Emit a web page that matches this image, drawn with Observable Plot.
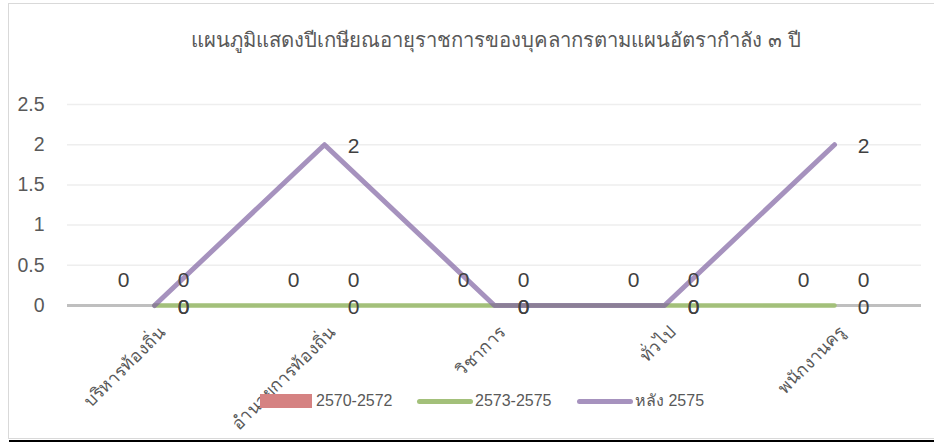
<!DOCTYPE html>
<html><head><meta charset="utf-8">
<script src="https://cdn.jsdelivr.net/npm/d3@7"></script>
<script src="https://cdn.jsdelivr.net/npm/@observablehq/plot@0.6"></script>
<style>
body{margin:0;background:#fff;}
#wrap{position:relative;width:934px;height:442px;overflow:hidden;font-family:"Liberation Sans",Arial,"Noto Sans",sans-serif;}
#frame{position:absolute;left:8px;top:3px;width:960px;height:436px;border:1.5px solid #d9d9d9;box-sizing:border-box;}
#bottomline{position:absolute;left:9px;top:440px;width:925px;height:2px;background:#000;}
#title{position:absolute;left:0;width:992px;top:24px;text-align:center;font-size:20.3px;color:#595959;white-space:nowrap;}
#chart{position:absolute;left:0;top:0;}
.lg{position:absolute;top:392px;font-size:16px;color:#595959;white-space:nowrap;line-height:18px;}
</style></head>
<body>
<div id="wrap">
  <div id="frame"></div>
  <div id="chart"></div>
  <div id="title"></div>
  <div id="legend"></div>
  <div id="bottomline"></div>
</div>
<script>
const title = "แผนภูมิแสดงปีเกษียณอายุราชการของบุคลากรตามแผนอัตรากำลัง ๓ ปี";
const categories = ["บริหารท้องถิ่น", "อำนวยการท้องถิ่น", "วิชาการ", "ทั่วไป", "พนักงานครู"];
const seriesNames = ["2570-2572", "2573-2575", "หลัง 2575"];
const values2570 = [0, 0, 0, 0, 0];
const values2573 = [0, 0, 0, 0, 0];
const valuesAfter = [0, 2, 0, 0, 2];
const yTicks = [0, 0.5, 1, 1.5, 2, 2.5];

const colors = ["#d58282", "#a3c07a", "#8064a2"];

const rows = (vals) => categories.map((c, i) => ({cat: c, v: vals[i]}));
const d2570 = rows(values2570), d2573 = rows(values2573), dAfter = rows(valuesAfter);

document.getElementById("title").textContent = title;

const chart = Plot.plot({
  width: 934, height: 442,
  marginTop: 104, marginBottom: 137, marginLeft: 67, marginRight: 13,
  style: {background: "transparent", fontFamily: "'Liberation Sans', Arial, sans-serif"},
  x: {type: "band", domain: categories, padding: 0, axis: null},
  y: {domain: [0, 2.5], axis: null},
  marks: [
    Plot.ruleY(yTicks.filter(d => d > 0), {stroke: "#eeeeee", strokeWidth: 1.5}),
    Plot.ruleY([0], {stroke: "#bfbfbf", strokeWidth: 3}),
    Plot.barY(d2570, {x: "cat", y: "v", fill: colors[0]}),
    Plot.line(d2573, {x: "cat", y: "v", stroke: colors[1], strokeWidth: 4.5}),
    Plot.line(dAfter, {x: "cat", y: "v", stroke: colors[2], strokeOpacity: 0.7, strokeWidth: 5, strokeLinecap: "round", strokeLinejoin: "round"}),
    Plot.axisY(yTicks, {label: null, tickSize: 0, tickPadding: 23, fontSize: 19.5, fill: "#595959", tickFormat: d => String(d)}),
    Plot.text(d2570, {x: "cat", y: "v", text: d => String(d.v), dx: -31, dy: -25, fontSize: 21, fill: "#404040"}),
    Plot.text(d2570, {x: "cat", y: "v", text: d => String(d.v), dx: 29, dy: -25, fontSize: 21, fill: "#404040"}),
    Plot.text(d2573, {x: "cat", y: "v", text: d => String(d.v), dx: 29, dy: 2, fontSize: 21, fill: "#404040"}),
    Plot.text(dAfter, {x: "cat", y: "v", text: d => String(d.v), dx: 29, dy: 2, fontSize: 21, fill: "#404040"}),
    Plot.text(categories, {x: d => d, y: 0, rotate: -45, textAnchor: "end", lineAnchor: "top", dx: 3, dy: 19, fontSize: 17.5, fill: "#595959"})
  ]
});
document.getElementById("chart").appendChild(chart);

// legend
const legend = document.getElementById("legend");
const lx = [260, 417, 577];
seriesNames.forEach((name, i) => {
  const sw = document.createElement("div");
  sw.style.position = "absolute";
  if (i === 0) {
    sw.style.left = lx[i] + "px"; sw.style.top = "394px"; sw.style.width = "52px"; sw.style.height = "14px";
    sw.style.background = colors[i];
  } else {
    sw.style.left = lx[i] + "px"; sw.style.top = "398.5px"; sw.style.width = "56px"; sw.style.height = "5px";
    sw.style.borderRadius = "3px";
    sw.style.background = colors[i];
    if (i === 2) sw.style.opacity = 0.7;
  }
  legend.appendChild(sw);
  const t = document.createElement("div");
  t.className = "lg";
  t.style.left = (lx[i] + (i === 0 ? 56 : 58)) + "px";
  t.textContent = name;
  legend.appendChild(t);
});
</script>
</body></html>
